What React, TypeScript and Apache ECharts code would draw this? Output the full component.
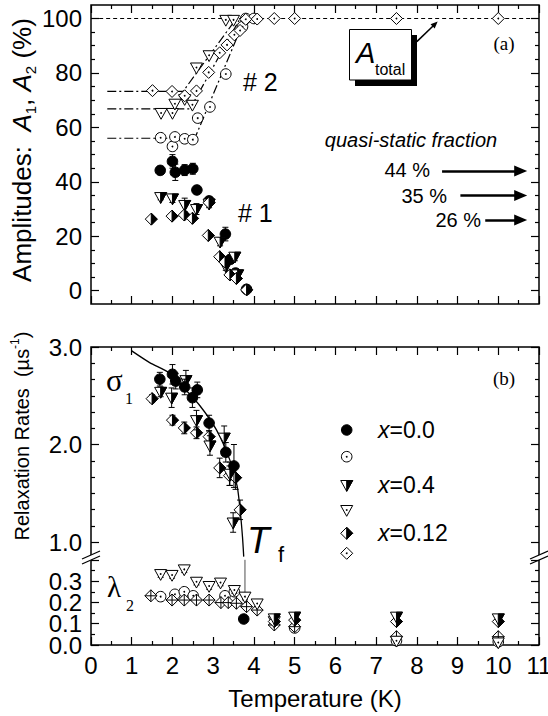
import React, { useEffect, useRef } from "react";
import * as echarts from "echarts";

const SANS = "'Liberation Sans', Arial, Helvetica, sans-serif";
const SERIF = "'Liberation Serif', 'Times New Roman', serif";

// ---------- Panel (a): amplitudes [T (K), A (%), error] ----------
const a1X00 = [[1.7, 44.2, 1.5], [2.0, 47.5, 2.5], [2.07, 43.5, 3], [2.3, 44.3, 2], [2.5, 44.8, 2], [2.6, 37, 1.5], [2.9, 33, 1.5], [3.3, 20.8, 2.5], [3.42, 11.5, 1.5], [3.55, 6.5, 1.5], [3.82, 0.5, 1]];
const a2X00 = [[1.71, 56.2], [2.0, 53], [2.06, 56.5], [2.3, 55.8], [2.5, 55.5], [2.62, 63.4], [2.92, 67.5], [3.31, 79.6], [3.72, 97], [3.8, 100], [4.0, 100]];
const a1X04 = [[1.71, 34.4, 1], [2.0, 33.9, 1.5], [2.3, 31.5, 2.5], [2.59, 30, 2], [2.9, 32, 1.5], [3.17, 18, 1.5], [3.31, 9, 1.5], [3.53, 12.5, 1.5], [3.6, 6, 1]];
const a2X04 = [[1.72, 65.3], [2.0, 65.3], [2.06, 68.7], [2.3, 70.4], [2.49, 68.3], [2.59, 82], [2.9, 86.5], [3.31, 99.5], [3.5, 99.5]];
const a1X012 = [[1.48, 26.3], [1.99, 27.4], [2.29, 27.8], [2.49, 26.6], [2.9, 32.3], [2.88, 20.3], [3.16, 12.5], [3.29, 10.5], [3.41, 5.8], [3.57, 4.5], [3.82, 0.3]];
const a2X012 = [[1.51, 73.5], [1.99, 73.2], [2.3, 71.6], [2.59, 73.4], [2.89, 80.2], [3.16, 87.4], [3.34, 90.3], [3.52, 94], [3.66, 95.6], [3.8, 99.7], [4.08, 99.8], [4.5, 100], [5, 100], [7.5, 100], [10, 100]];
const fitA2X00 = [[0.4, 56], [2.55, 56], [3.78, 100]];
const fitA2X04 = [[0.4, 66.8], [2.43, 66.8], [3.66, 100]];
const fitA2X012 = [[0.4, 73.2], [2.26, 73.2], [3.57, 100]];
const totalLine = [[0.2, 100], [11, 100]];
const qsFractions = [44, 35, 26];
const qsArrowFrom = [8.62, 9.07, 9.68];
const qsArrowTo = 10.55;
const totalArrow = [[8.0, 91.5], [8.45, 98]];

// ---------- Panel (b): relaxation rates [T (K), rate (us^-1), error] ----------
const s1X00 = [[1.69, 2.67, 0.07], [2.0, 2.72, 0.1], [2.08, 2.65, 0.08], [2.3, 2.59, 0.08], [2.49, 2.48, 0.1], [2.61, 2.56, 0.08], [2.9, 2.22, 0.08], [3.31, 1.92, 0.1], [3.51, 1.78, 0.22]];
const s1X04 = [[1.71, 2.54, 0.05], [1.98, 2.48, 0.1], [2.33, 2.66, 0.1], [2.59, 2.25, 0.1], [2.92, 1.99, 0.1], [3.27, 2.07, 0.12], [3.41, 1.7, 0.12], [3.49, 1.2, 0.1]];
const s1X012 = [[1.5, 2.47, 0.04], [2.0, 2.25, 0.05], [2.29, 2.17, 0.06], [2.59, 2.12, 0.06], [2.9, 2.08, 0.06], [3.16, 1.76, 0.1], [3.4, 1.68, 0.1], [3.55, 1.66, 0.12], [3.66, 1.33, 0.1]];
const s1Fit = [[1.0, 2.96], [1.44, 2.84], [1.94, 2.73], [2.26, 2.59], [2.67, 2.4], [3.08, 2.15], [3.41, 1.84], [3.59, 1.57], [3.67, 1.29], [3.72, 1.05], [3.75, 0.85]];
const tfLine = [[3.78, 0.4], [3.78, 0.18]];
const l2X00 = [[1.71, 0.227], [2.06, 0.238], [2.29, 0.25], [2.51, 0.231], [3.29, 0.231], [3.52, 0.25], [5, 0.08], [7.5, 0.02], [10, 0.015]];
const l2X04 = [[1.71, 0.333, 0.015], [1.99, 0.329, 0.015], [2.29, 0.355, 0.015], [2.59, 0.297, 0.015], [2.9, 0.277, 0.015], [3.18, 0.293, 0.015], [3.52, 0.258, 0.015], [3.78, 0.227, 0.015], [4.08, 0.195, 0.015], [4.5, 0.112, 0.015], [7.5, 0.02, 0.01], [10, 0.012, 0.01]];
const l2X012 = [[1.47, 0.231], [1.99, 0.211], [2.29, 0.211], [2.59, 0.211], [2.9, 0.211], [3.19, 0.199], [3.37, 0.199], [3.57, 0.196], [3.82, 0.18], [4.08, 0.164], [4.5, 0.094], [5, 0.086], [7.5, 0.039], [10, 0.039]];
const hiX00 = [[3.75, 0.122]];
const hiX04 = [[4.5, 0.125], [5, 0.133], [7.5, 0.133], [10, 0.125]];
const hiX012 = [[4.5, 0.11], [5, 0.117], [7.5, 0.11], [10, 0.11]];

// ---------- layout ----------
const PL = 91, PW = 448;
const A_TOP = 5, A_H = 299;
const A_DT = 18.5, A_DH = 272.2;
const B_TOP = 347, B_H = 298;
const BU_H = 195, BD_H = 211.25;
const BL_TOP = 559.8, BL_H = 85.2;
const BREAK_Y = 557;

const K = "#000";

function markerEls(kind: string, cx: number, cy: number, s: number): any[] {
  const open = { fill: "#fff", stroke: K, lineWidth: 1 };
  const solid = { fill: K, stroke: K, lineWidth: 1 };
  const dot = { type: "circle", shape: { cx, cy, r: 0.9 }, style: { fill: K } };
  const tri = [[cx - s, cy - 0.75 * s], [cx + s, cy - 0.75 * s], [cx, cy + 1.05 * s]];
  const triR = [[cx, cy - 0.75 * s], [cx + s, cy - 0.75 * s], [cx, cy + 1.05 * s]];
  const dia = [[cx, cy - s], [cx + s, cy], [cx, cy + s], [cx - s, cy]];
  const diaR = [[cx, cy - s], [cx + s, cy], [cx, cy + s]];
  switch (kind) {
    case "fc":
      return [{ type: "circle", shape: { cx, cy, r: 0.88 * s }, style: solid }];
    case "oc":
      return [{ type: "circle", shape: { cx, cy, r: 0.88 * s }, style: open }, dot];
    case "ht":
      return [{ type: "polygon", shape: { points: tri }, style: open }, { type: "polygon", shape: { points: triR }, style: solid }];
    case "ot":
      return [{ type: "polygon", shape: { points: tri }, style: open }, dot];
    case "hd":
      return [{ type: "polygon", shape: { points: dia }, style: open }, { type: "polygon", shape: { points: diaR }, style: solid }];
    case "od":
      return [{ type: "polygon", shape: { points: dia }, style: open }, dot];
    case "odx":
      return [
        { type: "polygon", shape: { points: dia }, style: open },
        { type: "line", shape: { x1: cx, y1: cy - s, x2: cx, y2: cy + s }, style: { stroke: K, lineWidth: 1 } },
        { type: "line", shape: { x1: cx - s, y1: cy, x2: cx + s, y2: cy }, style: { stroke: K, lineWidth: 1 } },
      ];
    default:
      return [];
  }
}

const mkRender = (kind: string, s: number) => (_p: any, api: any) => {
  const x = api.value(0), y = api.value(1), e = api.value(2) || 0;
  const p = api.coord([x, y]);
  const children: any[] = [];
  if (e > 0) {
    const t = api.coord([x, y + e])[1];
    const b = api.coord([x, y - e])[1];
    const st = { stroke: K, lineWidth: 1 };
    children.push({ type: "line", shape: { x1: p[0], y1: t, x2: p[0], y2: b }, style: st });
    children.push({ type: "line", shape: { x1: p[0] - 3, y1: t, x2: p[0] + 3, y2: t }, style: st });
    children.push({ type: "line", shape: { x1: p[0] - 3, y1: b, x2: p[0] + 3, y2: b }, style: st });
  }
  children.push(...markerEls(kind, p[0], p[1], s));
  return { type: "group", children };
};

const scat = (data: number[][], kind: string, xi: number, yi: number, s = 6) => ({
  type: "custom",
  coordinateSystem: "cartesian2d",
  xAxisIndex: xi,
  yAxisIndex: yi,
  renderItem: mkRender(kind, s),
  data: data.map((d) => [d[0], d[1], d[2] ?? 0]),
  encode: { x: 0, y: 1 },
  silent: true,
  z: 3,
});

const lineS = (data: number[][], xi: number, yi: number, lineStyle: any, extra: any = {}) => ({
  type: "line",
  xAxisIndex: xi,
  yAxisIndex: yi,
  data,
  symbol: "none",
  lineStyle,
  silent: true,
  z: 2,
  ...extra,
});

const tickStyle = { color: K, width: 1.2 };
const labelStyle = { fontSize: 24, fontFamily: SANS, color: K, lineHeight: 16, hideOverlap: false };

const xFrame = (gi: number, pos: string, labels: boolean) => ({
  type: "value", gridIndex: gi, position: pos, min: 0, max: 11, interval: 1,
  axisLine: { show: false },
  axisTick: { show: true, inside: true, length: 8, lineStyle: tickStyle },
  minorTick: { show: true, splitNumber: 2, length: 4, lineStyle: tickStyle },
  axisLabel: labels ? { show: true, ...labelStyle, lineHeight: 24, margin: 8, showMinLabel: true, showMaxLabel: true } : { show: false },
  splitLine: { show: false },
  minorSplitLine: { show: false },
});
const xHidden = (gi: number) => ({ type: "value", gridIndex: gi, min: 0, max: 11, show: false });
const yHidden = (gi: number, min = 0, max = 1) => ({ type: "value", gridIndex: gi, min, max, show: false });
const yTicks = (gi: number, pos: string, min: number, max: number, interval: number, minorSplit: number, fmt: any, showMin = true) => ({
  type: "value", gridIndex: gi, position: pos, min, max, interval,
  axisLine: { show: false },
  axisTick: { show: true, inside: true, length: 8, lineStyle: tickStyle },
  minorTick: { show: true, splitNumber: minorSplit, length: 4, lineStyle: tickStyle },
  axisLabel: fmt ? { show: true, formatter: fmt, ...labelStyle, margin: 9, showMinLabel: showMin, showMaxLabel: true } : { show: false },
  splitLine: { show: false },
  minorSplitLine: { show: false },
});
// label-only axis (no ticks), used for the lowest label of the broken axis
const yLabelOnly = (gi: number, min: number, max: number, interval: number, fmt: any) => ({
  type: "value", gridIndex: gi, position: "left", min, max, interval,
  axisLine: { show: false },
  axisTick: { show: false },
  axisLabel: { show: true, formatter: fmt, ...labelStyle, margin: 9, showMinLabel: true, showMaxLabel: false },
  splitLine: { show: false },
});

const txt = (x: number, y: number, text: string, o: any = {}) => ({
  type: "text",
  x, y, z: 100,
  style: {
    text,
    fontFamily: o.fontFamily ?? SANS,
    fontSize: o.fontSize ?? 20,
    fontStyle: o.fontStyle ?? "normal",
    fill: K,
    align: o.align ?? "left",
    textAlign: o.align ?? "left",
    verticalAlign: "middle",
    textVerticalAlign: "middle",
    rich: o.rich,
    lineHeight: o.lineHeight,
  },
  rotation: o.rotation ?? 0,
});

function breakMark(x: number, y: number) {
  return {
    type: "group", z: 100,
    children: [
      { type: "polygon", shape: { points: [[x - 9, y + 2], [x + 9, y - 6], [x + 9, y - 1], [x - 9, y + 7]] }, style: { fill: "#fff" } },
      { type: "line", shape: { x1: x - 9, y1: y + 2, x2: x + 9, y2: y - 6 }, style: { stroke: K, lineWidth: 1.3 } },
      { type: "line", shape: { x1: x - 9, y1: y + 7, x2: x + 9, y2: y - 1 }, style: { stroke: K, lineWidth: 1.3 } },
    ],
  };
}

const legendRows = [
  { kind: "fc", y: 430, label: "=0.0" },
  { kind: "oc", y: 456.7, label: "" },
  { kind: "ht", y: 485, label: "=0.4" },
  { kind: "ot", y: 510, label: "" },
  { kind: "hd", y: 533.3, label: "=0.12" },
  { kind: "od", y: 553.3, label: "" },
];

function buildOption(): any {
  const graphic: any[] = [];
  // y-axis titles
  graphic.push(txt(22, 150, "Amplitudes:  {i|A}{s|1}, {i|A}{s|2} (%)", {
    fontSize: 26, rotation: Math.PI / 2, align: "center", lineHeight: 32,
    rich: {
      i: { fontStyle: "italic", fontSize: 26, fontFamily: SANS, lineHeight: 32 },
      s: { fontSize: 15, fontFamily: SANS, verticalAlign: "bottom", lineHeight: 12 },
    },
  }));
  graphic.push(txt(22, 436, "Relaxation Rates  (\u00b5s{p|-1})", {
    fontSize: 20, rotation: Math.PI / 2, align: "center", lineHeight: 26,
    rich: { p: { fontSize: 12, fontFamily: SANS, verticalAlign: "top", lineHeight: 11 } },
  }));
  graphic.push(txt(315, 698, "Temperature (K)", { fontSize: 24, align: "center" }));
  // panel (a) annotations
  graphic.push(txt(243, 82, "# 2", { fontSize: 25 }));
  graphic.push(txt(238, 213, "# 1", { fontSize: 25 }));
  graphic.push(txt(504, 43, "(a)", { fontSize: 19, fontFamily: SERIF, align: "center" }));
  graphic.push({ type: "rect", z: 99, shape: { x: 355, y: 35, width: 62, height: 51 }, style: { fill: K } });
  graphic.push({ type: "rect", z: 100, shape: { x: 349.5, y: 29.5, width: 62, height: 50.5 }, style: { fill: "#fff", stroke: K, lineWidth: 1 } });
  graphic.push(txt(356, 53, "A", { fontSize: 29, fontStyle: "italic" }));
  graphic.push(txt(375, 69, "total", { fontSize: 16 }));
  graphic.push(txt(411, 140, "quasi-static fraction", { fontSize: 20, fontStyle: "italic", align: "center" }));
  const qsRight = [430, 447, 481];
  qsFractions.forEach((f, i) => graphic.push(txt(qsRight[i], [170, 196, 220][i], `${f} %`, { fontSize: 20, align: "right" })));
  // panel (b) annotations
  graphic.push(txt(504, 378, "(b)", { fontSize: 19, fontFamily: SERIF, align: "center" }));
  graphic.push(txt(106, 380, "\u03c3", { fontSize: 31, fontFamily: SERIF }));
  graphic.push(txt(125, 398, "1", { fontSize: 16, fontFamily: SERIF }));
  graphic.push(txt(107, 587, "\u03bb", { fontSize: 29, fontFamily: SERIF }));
  graphic.push(txt(126, 605, "2", { fontSize: 16, fontFamily: SERIF }));
  graphic.push(txt(247, 540, "T", { fontSize: 37, fontStyle: "italic" }));
  graphic.push(txt(278, 554, "f", { fontSize: 22 }));
  // legend
  legendRows.forEach((r) => {
    graphic.push({ type: "group", z: 100, children: markerEls(r.kind, 346.7, r.y, 6) });
    if (r.label) {
      graphic.push(txt(378, r.y, "{i|x}" + r.label, {
        fontSize: 23,
        rich: { i: { fontStyle: "italic", fontSize: 23, fontFamily: SANS } },
      }));
    }
  });
  graphic.push(breakMark(PL, BREAK_Y));
  graphic.push(breakMark(PL + PW, BREAK_Y));

  const grid = [
    { left: PL, top: A_TOP, width: PW, height: A_H, show: true, borderColor: K, borderWidth: 1.5, backgroundColor: "transparent", outerBoundsMode: "none" },
    { left: PL, top: A_DT, width: PW, height: A_DH, outerBoundsMode: "none" },
    { left: PL, top: B_TOP, width: PW, height: B_H, show: true, borderColor: K, borderWidth: 1.5, backgroundColor: "transparent", outerBoundsMode: "none" },
    { left: PL, top: B_TOP, width: PW, height: BU_H, outerBoundsMode: "none" },
    { left: PL, top: B_TOP, width: PW, height: BD_H, outerBoundsMode: "none" },
    { left: PL, top: BL_TOP, width: PW, height: BL_H, outerBoundsMode: "none" },
  ];
  const xAxis = [
    xFrame(0, "bottom", false),
    xFrame(0, "top", false),
    xHidden(1),
    xFrame(2, "bottom", true),
    xFrame(2, "top", false),
    xHidden(3),
    xHidden(4),
    xHidden(5),
  ];
  const yAxis = [
    yHidden(0),
    yTicks(1, "left", 0, 100, 20, 4, (v: number) => String(Math.round(v))),
    yTicks(1, "right", 0, 100, 20, 4, null),
    yHidden(2),
    yTicks(3, "left", 1, 3, 1, 6, (v: number) => v.toFixed(1)),
    yTicks(3, "right", 1, 3, 1, 6, null),
    yHidden(4, 5 / 6, 3),
    yTicks(5, "left", 0, 0.4, 0.1, 2, (v: number) => (v > 0.35 || v < 0.05 ? "" : v.toFixed(1)), false),
    yTicks(5, "right", 0, 0.4, 0.1, 2, null),
    yLabelOnly(5, 0, 0.4, 0.4, (v: number) => (v < 0.05 ? v.toFixed(1) : "")),
  ];
  const dashDot = { color: K, width: 1.2, type: [9, 3, 2, 3] };
  const series: any[] = [
    lineS(totalLine, 2, 1, { color: K, width: 1, type: [4, 3] }, {
      markLine: {
        silent: true, symbol: ["none", "triangle"], symbolSize: [11, 13],
        label: { show: false }, emphasis: { disabled: true },
        lineStyle: { color: K, width: 2.5, type: "solid" },
        data: qsFractions.map((f, i) => [{ coord: [qsArrowFrom[i], f] }, { coord: [qsArrowTo, f] }]),
      },
    }),
    lineS(fitA2X00, 2, 1, dashDot, {
      markLine: {
        silent: true, symbol: ["none", "triangle"], symbolSize: [6, 7],
        label: { show: false }, emphasis: { disabled: true },
        lineStyle: { color: K, width: 1.5, type: "solid" },
        data: [[{ coord: totalArrow[0] }, { coord: totalArrow[1] }]],
      },
    }),
    lineS(fitA2X04, 2, 1, dashDot),
    lineS(fitA2X012, 2, 1, dashDot),
    scat(a2X00, "oc", 2, 1),
    scat(a2X04, "ot", 2, 1),
    scat(a1X00, "fc", 2, 1),
    scat(a1X04, "ht", 2, 1),
    scat(a2X012, "od", 2, 1),
    scat(a1X012, "hd", 2, 1),
    // panel (b) upper
    lineS(s1Fit, 6, 6, { color: K, width: 1.3 }, { smooth: 0.25 }),
    scat(s1X012, "hd", 6, 6),
    scat(s1X04, "ht", 6, 6),
    scat(s1X00, "fc", 6, 6),
    // panel (b) lower
    lineS(tfLine, 7, 7, { color: "#777", width: 1.3 }),
    scat(l2X00, "oc", 7, 7),
    scat(l2X012, "odx", 7, 7),
    scat(l2X04, "ot", 7, 7),
    scat(hiX012, "hd", 7, 7),
    scat(hiX04, "ht", 7, 7),
    scat(hiX00, "fc", 7, 7),
  ];
  return { animation: false, backgroundColor: "#fff", grid, xAxis, yAxis, series, graphic };
}

export default function App() {
  const ref = useRef<HTMLDivElement>(null);
  useEffect(() => {
    if (!ref.current) return;
    const chart = echarts.init(ref.current, undefined, { renderer: "svg" });
    chart.setOption(buildOption());
    return () => chart.dispose();
  }, []);
  return <div ref={ref} style={{ position: "fixed", left: 0, top: 0, width: 548, height: 716, background: "#fff" }} />;
}
